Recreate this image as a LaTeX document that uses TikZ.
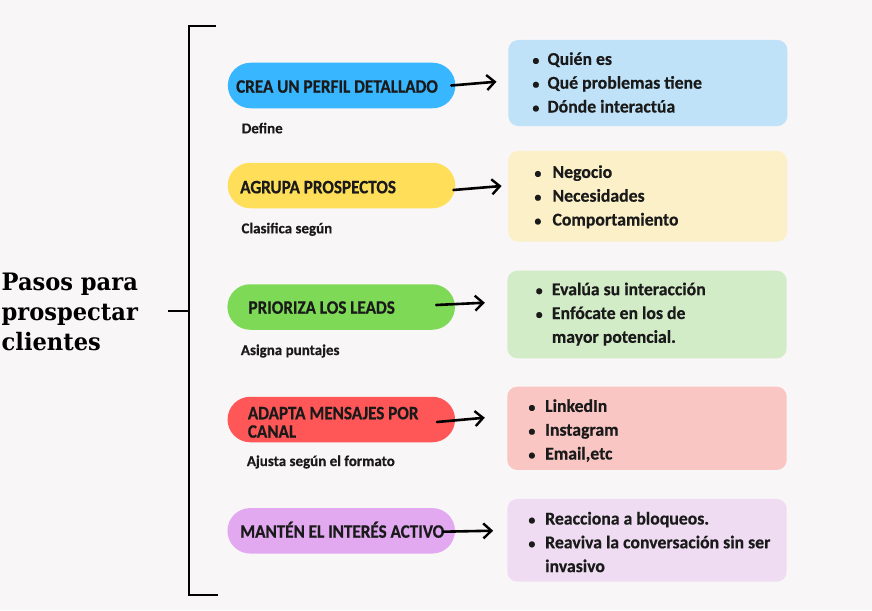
\documentclass[tikz,border=0pt]{standalone}
\usepackage{fontspec}
\setmainfont{Carlito}[BoldFeatures={FakeBold=0.4}]
\newfontfamily\titlefont[FakeStretch=0.94]{DejaVu Serif}
\newfontfamily\pillfont[FakeStretch=0.9,BoldFeatures={FakeBold=0.6}]{Carlito}
\newfontfamily\boxfont[FakeStretch=0.985,BoldFeatures={FakeBold=0.5}]{Carlito}
\usetikzlibrary{arrows.meta}
\definecolor{bg}{HTML}{F8F6F7}
\definecolor{ink}{HTML}{1A1A1A}
\definecolor{pBlue}{HTML}{38B6FF}
\definecolor{pYellow}{HTML}{FFDE59}
\definecolor{pGreen}{HTML}{7ED957}
\definecolor{pRed}{HTML}{FF5757}
\definecolor{pPurple}{HTML}{E2A9F1}
\definecolor{bBlue}{HTML}{BFE2F8}
\definecolor{bYellow}{HTML}{FCF0C8}
\definecolor{bGreen}{HTML}{D3ECC8}
\definecolor{bRed}{HTML}{F9C6C4}
\definecolor{bPurple}{HTML}{EFDCF2}
\newcommand\itm[2]{\llap{\makebox[0pt][c]{\fontsize{14}{14}\selectfont •}\hspace{#1}}#2}
\tikzset{
  pill/.style={rectangle, rounded corners=22.7pt, minimum width=227.5pt, minimum height=45.5pt, inner sep=0pt},
  pilltext/.style={anchor=base west, inner sep=0pt, text=ink, font=\pillfont\bfseries\fontsize{19}{19}\selectfont},
  sublabel/.style={anchor=base west, inner sep=0pt, text=ink, font=\bfseries\fontsize{15}{15}\selectfont},
  infobox/.style={rectangle, rounded corners=10pt, inner sep=0pt},
  boxtext/.style={anchor=base west, inner sep=0pt, text=ink, align=left, font=\boxfont\bfseries\fontsize{18}{23.8}\selectfont},
  conn/.style={draw=black, line width=2.6pt, line cap=round, -{Straight Barb[length=8pt,width=15pt,line width=2.4pt]}},
  bracket/.style={draw=black, line width=1.8pt},
}
\begin{document}
\begin{tikzpicture}[x=1pt,y=-1pt]
\fill[bg] (0,0) rectangle (872,610);
\useasboundingbox (0,0) rectangle (872,610);

% title (anchor = baseline of last line)
\node[anchor=base west, inner sep=0pt, align=left, text=black,
  font=\titlefont\bfseries\fontsize{24}{29.7}\selectfont] (title) at (1.5,350.1) {Pasos para\\prospectar\\clientes};

% bracket
\coordinate (brTop) at (216,25.7);
\coordinate (brBot) at (217.5,595);
\coordinate (tick) at (168.3,311);
\draw[bracket] (brTop) -- (189,25.7) -- (189,595) -- (brBot);
\draw[bracket] (tick) -- (189,311);

% pills
\node[pill, fill=pBlue]   (p1) at (341.6,85.5) {};
\node[pill, fill=pYellow] (p2) at (341.5,185.5) {};
\node[pill, fill=pGreen]  (p3) at (341.2,307) {};
\node[pill, fill=pRed]    (p4) at (341.3,419.5) {};
\node[pill, fill=pPurple] (p5) at (341.2,530.8) {};

\node[pilltext] (t1) at (236,92.7) {CREA UN PERFIL DETALLADO};
\node[pilltext] (t2) at (240,193.3) {AGRUPA PROSPECTOS};
\node[pilltext] (t3) at (248.3,313.7) {PRIORIZA LOS LEADS};
\node[pilltext] (t4a) at (247.7,419.3) {ADAPTA MENSAJES POR};
\node[pilltext] (t4b) at (247.7,437.7) {CANAL};
\node[pilltext] (t5) at (240,537.7) {MANTÉN EL INTERÉS ACTIVO};

% sublabels
\node[sublabel] (s1) at (241.7,133.3) {Define};
\node[sublabel] (s2) at (241.3,233.3) {Clasifica según};
\node[sublabel] (s3) at (240.7,355) {Asigna puntajes};
\node[sublabel] (s4) at (246.7,466) {Ajusta según el formato};

% info boxes
\node[infobox, fill=bBlue,   minimum width=279pt,  minimum height=86pt]   (b1) at (647.8,83) {};
\node[infobox, fill=bYellow, minimum width=279pt,  minimum height=90.7pt] (b2) at (647.6,196.3) {};
\node[infobox, fill=bGreen,  minimum width=279.4pt,minimum height=87.6pt] (b3) at (647,314.5) {};
\node[infobox, fill=bRed,    minimum width=279.4pt,minimum height=83.3pt] (b4) at (647,428.3) {};
\node[infobox, fill=bPurple, minimum width=279.4pt,minimum height=82.7pt] (b5) at (647,540.3) {};

% box texts (anchor = baseline of last line)
\node[boxtext] (bt1) at (547.3,112.5) {\itm{11.6pt}{Quién es}\\\itm{11.6pt}{Qué problemas tiene}\\\itm{11.6pt}{Dónde interactúa}};
\node[boxtext] (bt2) at (552.3,225.5) {\itm{14.6pt}{Negocio}\\\itm{14.6pt}{Necesidades}\\\itm{14.6pt}{Comportamiento}};
\node[boxtext] (bt3) at (551.7,342.8) {\itm{12.7pt}{Evalúa su interacción}\\\itm{12.7pt}{Enfócate en los de}\\mayor potencial.};
\node[boxtext] (bt4) at (545,459.5) {\itm{13.3pt}{LinkedIn}\\\itm{13.3pt}{Instagram}\\\itm{13.3pt}{Email,etc}};
\node[boxtext] (bt5) at (545,572.1) {\itm{13.3pt}{Reacciona a bloqueos.}\\\itm{13.3pt}{Reaviva la conversación sin ser}\\invasivo};

% connectors
\draw[conn] ([xshift=-4.3pt]p1.east) -- ([xshift=-11.6pt,yshift=1.3pt]b1.west);
\draw[conn] ([xshift=-2pt,yshift=-4.5pt]p2.east) -- ([xshift=-6.3pt,yshift=10.3pt]b2.west);
\draw[conn] ([xshift=-19pt,yshift=2pt]p3.east) -- ([xshift=-22.3pt,yshift=11.8pt]b3.west);
\draw[conn] ([xshift=-18.3pt,yshift=-2.5pt]p4.east) -- ([xshift=-22.3pt,yshift=10.6pt]b4.west);
\draw[conn] ([xshift=-12.3pt,yshift=-0.9pt]p5.east) -- ([xshift=-14pt,yshift=9.6pt]b5.west);
\end{tikzpicture}
\end{document}
